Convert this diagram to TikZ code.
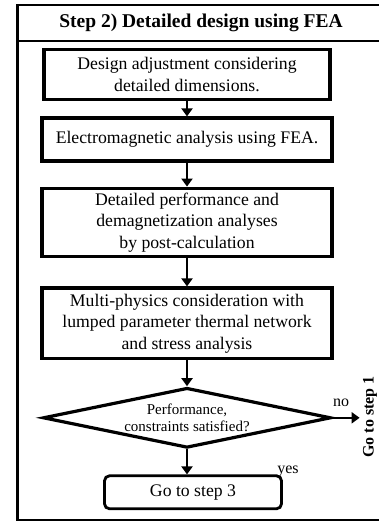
\documentclass[tikz,border=0pt]{standalone}
\usepackage{fontspec}
\setmainfont{Liberation Serif}
\usetikzlibrary{arrows.meta,positioning,shapes.geometric}

\begin{document}
\begin{tikzpicture}[x=1pt, y=-1pt, line join=miter,
   stepbox/.style={draw, line width=3.2pt, align=center, inner sep=0pt,
      font=\fontsize{17.7}{21.5}\selectfont},
   decision/.style={draw, diamond, aspect=4.6, line width=3.2pt, align=center,
      inner sep=0pt, font=\fontsize{15}{16.5}\selectfont},
   flow/.style={line width=2pt, -{Triangle[length=8pt,width=11pt]}},
   tag/.style={font=\fontsize{16}{18}\selectfont}]
   \path[use as bounding box] (0,0) rectangle (379,521); % page size of the reference
   % frame open on the right, with title strip
   \draw[line width=2.6pt] (379,5) -- (17.5,5) -- (17.5,520) -- (379,520);
   \draw[line width=2.8pt] (17.5,41) -- (379,41);
   \node[font=\fontsize{19.5}{22}\selectfont\bfseries] (title) at (201,23) {Step 2) Detailed design using FEA};

   % main chain of steps
   \node[stepbox, minimum width=286pt, minimum height=49.6pt] (adjust) at (187,74.5)
      {Design adjustment considering\\detailed dimensions.};
   \node[stepbox, minimum width=290pt, minimum height=43pt, below=15.5pt of adjust] (fea)
      {Electromagnetic analysis using FEA.};
   \node[stepbox, minimum width=290pt, minimum height=68.6pt, below=24pt of fea] (post)
      {Detailed performance and\\demagnetization analyses\\by post-calculation};
   \node[stepbox, minimum width=290pt, minimum height=70.6pt, below=28pt of post] (multi)
      {Multi-physics consideration with\\lumped parameter thermal network\\and stress analysis};
   \node[decision, minimum width=288pt, minimum height=60pt, below=26pt of multi] (check)
      {Performance,\\constraints satisfied?};
   \node[stepbox, line width=2.8pt, rounded corners=5pt, minimum width=177pt, minimum height=33pt,
      below=25pt of check, xshift=6pt] (next) {Go to step 3};

   \draw[flow] (adjust) -- (fea);
   \draw[flow] (fea) -- (post);
   \draw[flow] (post) -- (multi);
   \draw[flow] (multi) -- (check);
   \draw[flow] (check.south) -- (check.south |- next.north);

   % exit back to step 1
   \node[rotate=90, inner sep=0pt, font=\fontsize{16}{18}\selectfont\bfseries] (back) at (370,417) {Go to step 1};
   \draw[flow] (check.east) -- ++(27,0);
   \node[tag] (nolbl) at (341,403) {no};
   \node[tag] (yeslbl) at (288,471) {yes};
\end{tikzpicture}
\end{document}
